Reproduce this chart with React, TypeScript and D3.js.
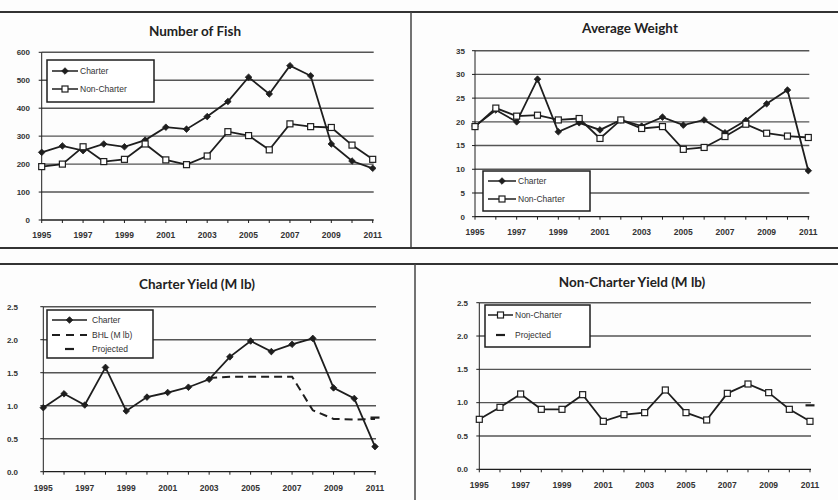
import React from 'react';
import * as d3 from 'd3';

const years = [1995, 1996, 1997, 1998, 1999, 2000, 2001, 2002, 2003, 2004, 2005, 2006, 2007, 2008, 2009, 2010, 2011];
const xLabelYears = [1995, 1997, 1999, 2001, 2003, 2005, 2007, 2009, 2011];

const fishCharter = [242, 265, 248, 272, 262, 286, 332, 325, 370, 424, 511, 451, 552, 516, 272, 211, 185];
const fishNonCharter = [191, 200, 262, 209, 217, 272, 215, 198, 229, 316, 302, 251, 344, 334, 331, 268, 217];
const fishTicks = [0, 100, 200, 300, 400, 500, 600];

const weightCharter = [19.1, 22.5, 20.0, 29.0, 17.9, 19.8, 18.3, 20.4, 19.1, 21.0, 19.3, 20.4, 17.7, 20.3, 23.8, 26.7, 9.7];
const weightNonCharter = [19.0, 22.9, 21.2, 21.4, 20.4, 20.7, 16.5, 20.4, 18.6, 19.0, 14.2, 14.6, 16.9, 19.5, 17.6, 17.0, 16.7];
const weightTicks = [0, 5, 10, 15, 20, 25, 30, 35];

const yieldCharter = [0.97, 1.18, 1.01, 1.58, 0.92, 1.13, 1.2, 1.28, 1.4, 1.74, 1.98, 1.82, 1.93, 2.02, 1.27, 1.11, 0.38];
const bhlYears = [2003, 2004, 2005, 2006, 2007, 2008, 2009, 2010, 2011];
const bhlValues = [1.42, 1.44, 1.44, 1.44, 1.44, 0.93, 0.8, 0.79, 0.8];
const projectedCharter = [{ year: 2011, value: 0.82 }];

const yieldNonCharter = [0.75, 0.93, 1.13, 0.9, 0.9, 1.12, 0.72, 0.82, 0.85, 1.19, 0.85, 0.74, 1.14, 1.28, 1.15, 0.9, 0.72];
const projectedNonCharter = [{ year: 2011, value: 0.96 }];
const yieldTicks = [0, 0.5, 1.0, 1.5, 2.0, 2.5];

const FONT = "'Liberation Sans', Arial, sans-serif";
const TITLE_FONT = "Lato, 'Open Sans', sans-serif";
const INK = '#1e1e1e';
const GRID = '#555';

type Pt = { year: number; value: number };
type Series = { points: Pt[]; kind: 'diamond' | 'square' | 'dashed' | 'projected' };
type LegendItem = { kind: Series['kind']; label: string };

type PanelProps = {
  title: string;
  titleX: number;
  titleY: number;
  x0: number;
  x1: number;
  yBottom: number;
  yTop: number;
  ticks: number[];
  fmt: (v: number) => string;
  yLabelX: number;
  xLabelY: number;
  series: Series[];
  legend: { x: number; y: number; w: number; h: number; rows: number[]; lineX0: number; lineX1: number; textX: number; items: LegendItem[] };
};

const toPts = (vals: number[], yrs: number[] = years): Pt[] => vals.map((v, i) => ({ year: yrs[i], value: v }));

function Marker({ kind, x, y }: { kind: Series['kind']; x: number; y: number }) {
  if (kind === 'diamond') {
    const r = 3.3;
    return <path d={`M0,${-r}L${r},0L0,${r}L${-r},0Z`} transform={`translate(${x},${y})`} fill={INK} stroke={INK} strokeWidth={0.8} />;
  }
  if (kind === 'square') {
    return <rect x={x - 3} y={y - 3} width={6} height={6} fill="#fff" stroke={INK} strokeWidth={1.2} />;
  }
  if (kind === 'projected') {
    return <line x1={x - 4.5} x2={x + 4.5} y1={y} y2={y} stroke={INK} strokeWidth={2.2} />;
  }
  return null;
}

function Panel(p: PanelProps) {
  const x = d3.scaleLinear().domain([years[0], years[years.length - 1]]).range([p.x0, p.x1]);
  const y = d3.scaleLinear().domain([p.ticks[0], p.ticks[p.ticks.length - 1]]).range([p.yBottom, p.yTop]);
  const line = d3.line<Pt>().x(d => x(d.year)).y(d => y(d.value));
  return (
    <g>
      <text x={p.titleX} y={p.titleY} textAnchor="middle" fontFamily={TITLE_FONT} fontWeight={700} fontSize={13.5} fill="#222">{p.title}</text>
      {p.ticks.map(t => (
        <g key={t}>
          {t !== p.ticks[0] && <line x1={p.x0} x2={p.x1 + 1} y1={y(t)} y2={y(t)} stroke={GRID} strokeWidth={1.4} />}
          <line x1={p.x0 - 3} x2={p.x0} y1={y(t)} y2={y(t)} stroke={INK} strokeWidth={1} />
          <text x={p.yLabelX} y={y(t)} dy="0.35em" textAnchor="end" fontFamily={FONT} fontSize={8} fontWeight={700} fill="#333">{p.fmt(t)}</text>
        </g>
      ))}
      <line x1={p.x0} x2={p.x0} y1={p.yTop} y2={p.yBottom} stroke={INK} strokeWidth={1} />
      <line x1={p.x0} x2={p.x1 + 1} y1={p.yBottom} y2={p.yBottom} stroke={INK} strokeWidth={1.3} />
      {years.map(yr => (
        <line key={yr} x1={x(yr)} x2={x(yr)} y1={p.yBottom} y2={p.yBottom + 3} stroke={INK} strokeWidth={1} />
      ))}
      {xLabelYears.map(yr => (
        <text key={yr} x={x(yr)} y={p.xLabelY} textAnchor="middle" fontFamily={FONT} fontSize={8.5} fontWeight={700} fill="#333">{yr}</text>
      ))}
      {p.series.map((s, i) => {
        if (s.kind === 'projected') {
          return <g key={i}>{s.points.map((d, j) => <Marker key={j} kind="projected" x={x(d.year)} y={y(d.value)} />)}</g>;
        }
        if (s.kind === 'dashed') {
          return <path key={i} d={line(s.points) || ''} fill="none" stroke={INK} strokeWidth={2} strokeDasharray="8,5" />;
        }
        return (
          <g key={i}>
            <path d={line(s.points) || ''} fill="none" stroke={INK} strokeWidth={1.8} />
            {s.points.map((d, j) => <Marker key={j} kind={s.kind} x={x(d.year)} y={y(d.value)} />)}
          </g>
        );
      })}
      <rect x={p.legend.x} y={p.legend.y} width={p.legend.w} height={p.legend.h} fill="#fff" stroke={INK} strokeWidth={1.5} />
      {p.legend.items.map((it, i) => {
        const ly = p.legend.rows[i];
        const mid = (p.legend.lineX0 + p.legend.lineX1) / 2;
        return (
          <g key={i}>
            {it.kind === 'dashed' && (
              <line x1={p.legend.lineX0} x2={p.legend.lineX1} y1={ly} y2={ly} stroke={INK} strokeWidth={2} strokeDasharray="8,6" />
            )}
            {(it.kind === 'diamond' || it.kind === 'square') && (
              <line x1={p.legend.lineX0} x2={p.legend.lineX1} y1={ly} y2={ly} stroke={INK} strokeWidth={1.5} />
            )}
            <Marker kind={it.kind} x={mid} y={ly} />
            <text x={p.legend.textX} y={ly} dy="0.35em" fontFamily={FONT} fontSize={8.5} fill="#333">{it.label}</text>
          </g>
        );
      })}
    </g>
  );
}

export default function App() {
  const f0 = (v: number) => d3.format('d')(v);
  const f1 = (v: number) => d3.format('.1f')(v);
  return (
    <svg width={838} height={500} style={{ position: 'absolute', left: 0, top: 0, background: '#fff' }}>
      <rect width={838} height={500} fill="#fdfdfd" />
      <line x1={0} x2={838} y1={12} y2={12} stroke="#333" strokeWidth={1.8} />
      <line x1={411} x2={411} y1={12} y2={248} stroke="#444" strokeWidth={1.5} />
      <line x1={0} x2={838} y1={248} y2={248} stroke="#333" strokeWidth={1.8} />
      <line x1={0} x2={838} y1={264} y2={264} stroke="#333" strokeWidth={1.8} />
      <line x1={415} x2={415} y1={264} y2={500} stroke="#444" strokeWidth={1.5} />

      <Panel
        title="Number of Fish" titleX={195} titleY={36}
        x0={41.7} x1={372.7} yBottom={220} yTop={52.3}
        ticks={fishTicks} fmt={f0} yLabelX={30} xLabelY={238}
        series={[{ kind: 'diamond', points: toPts(fishCharter) }, { kind: 'square', points: toPts(fishNonCharter) }]}
        legend={{ x: 47, y: 60, w: 107, h: 42, rows: [71, 89], lineX0: 52, lineX1: 78, textX: 80,
          items: [{ kind: 'diamond', label: 'Charter' }, { kind: 'square', label: 'Non-Charter' }] }}
      />
      <Panel
        title="Average Weight" titleX={630} titleY={33}
        x0={475} x1={808.3} yBottom={216.7} yTop={50.7}
        ticks={weightTicks} fmt={f0} yLabelX={465} xLabelY={235}
        series={[{ kind: 'diamond', points: toPts(weightCharter) }, { kind: 'square', points: toPts(weightNonCharter) }]}
        legend={{ x: 483, y: 171, w: 107, h: 40, rows: [181, 199], lineX0: 488, lineX1: 516, textX: 518,
          items: [{ kind: 'diamond', label: 'Charter' }, { kind: 'square', label: 'Non-Charter' }] }}
      />
      <Panel
        title="Charter Yield (M lb)" titleX={197} titleY={289}
        x0={43.3} x1={375} yBottom={471.7} yTop={306.7}
        ticks={yieldTicks} fmt={f1} yLabelX={18} xLabelY={491}
        series={[
          { kind: 'dashed', points: toPts(bhlValues, bhlYears) },
          { kind: 'diamond', points: toPts(yieldCharter) },
          { kind: 'projected', points: projectedCharter },
        ]}
        legend={{ x: 47, y: 310, w: 106, h: 48, rows: [320, 335, 349], lineX0: 52, lineX1: 87, textX: 92,
          items: [{ kind: 'diamond', label: 'Charter' }, { kind: 'dashed', label: 'BHL (M lb)' }, { kind: 'projected', label: 'Projected' }] }}
      />
      <Panel
        title="Non-Charter Yield (M lb)" titleX={632} titleY={287}
        x0={479.3} x1={810} yBottom={469.3} yTop={302.7}
        ticks={yieldTicks} fmt={f1} yLabelX={468} xLabelY={488}
        series={[
          { kind: 'square', points: toPts(yieldNonCharter) },
          { kind: 'projected', points: projectedNonCharter },
        ]}
        legend={{ x: 485, y: 305, w: 105, h: 42, rows: [315, 335], lineX0: 488, lineX1: 513, textX: 515,
          items: [{ kind: 'square', label: 'Non-Charter' }, { kind: 'projected', label: 'Projected' }] }}
      />
    </svg>
  );
}
